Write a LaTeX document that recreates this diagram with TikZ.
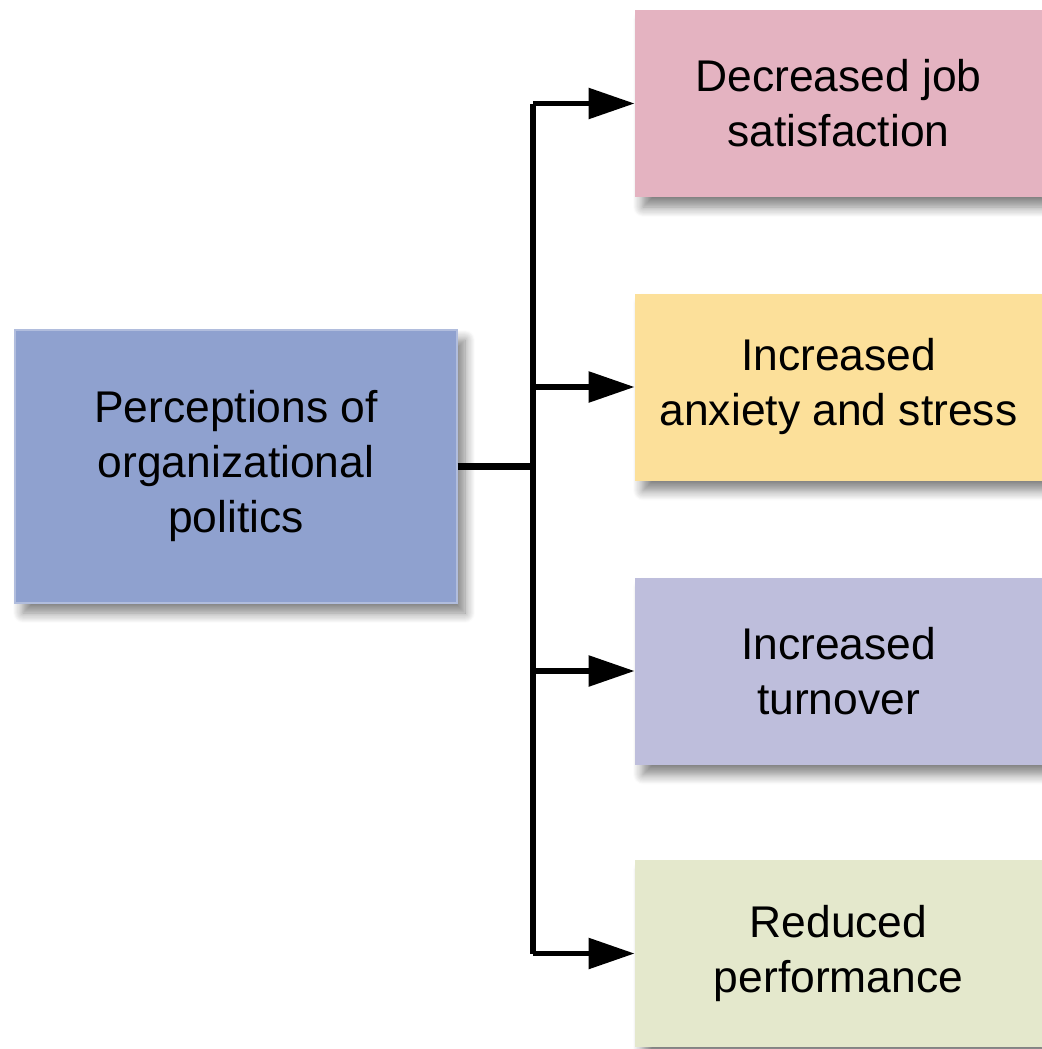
\documentclass[tikz,border=0pt]{standalone}
\usepackage{fontspec}
\setmainfont{Liberation Sans}
\usetikzlibrary{positioning, arrows.meta, shadows.blur, calc}
\definecolor{PoliticsBlue}{RGB}{143,161,207}
\definecolor{SatisfactionPink}{RGB}{228,179,193}
\definecolor{StressYellow}{RGB}{252,224,154}
\definecolor{TurnoverLilac}{RGB}{190,190,220}
\definecolor{PerformanceGreen}{RGB}{228,232,204}
\tikzstyle{outcome} = [rectangle, align=center, inner sep=0pt, minimum width=203.5pt, minimum height=93.5pt, font=\fontsize{22.2}{27.5}\selectfont, blur shadow={shadow xshift=4pt, shadow yshift=-5pt, shadow opacity=50, shadow blur steps=10, shadow blur radius=5pt}]
\tikzstyle{source} = [outcome, minimum width=221pt, minimum height=136.5pt, draw=PoliticsBlue!70!white, line width=0.6pt]
\tikzstyle{arrow} = [line width=2.8pt, -{Triangle[length=23pt, width=15pt]}]

\begin{document}
\begin{tikzpicture}[x=0.5pt, y=-0.5pt]
    \useasboundingbox (0,0) rectangle (1042,1049);
    % cause on the left
    \node[source, fill=PoliticsBlue] (politics) at (236,466.5) {Perceptions of\\organizational\\politics};
    % outcomes on the right
    \node[outcome, fill=SatisfactionPink] (satisfaction) at (838.5,103.5) {Decreased job\\satisfaction};
    \node[outcome, fill=StressYellow] (stress) at (838.5,387) {Increased\\anxiety and stress};
    \node[outcome, fill=TurnoverLilac] (turnover) at (838.5,671) {Increased\\turnover};
    \node[outcome, fill=PerformanceGreen] (performance) at (838.5,953.5) {Reduced\\performance};
    % connectors
    \coordinate (split) at (533,466.5);
    \draw[line width=3.4pt] (politics.east) -- (split);
    \draw[line width=2.8pt] (split |- satisfaction) -- (split |- performance);
    \foreach \effect in {satisfaction, stress, turnover, performance}
        \draw[arrow] (split |- \effect) -- (\effect.west);
\end{tikzpicture}
\end{document}
